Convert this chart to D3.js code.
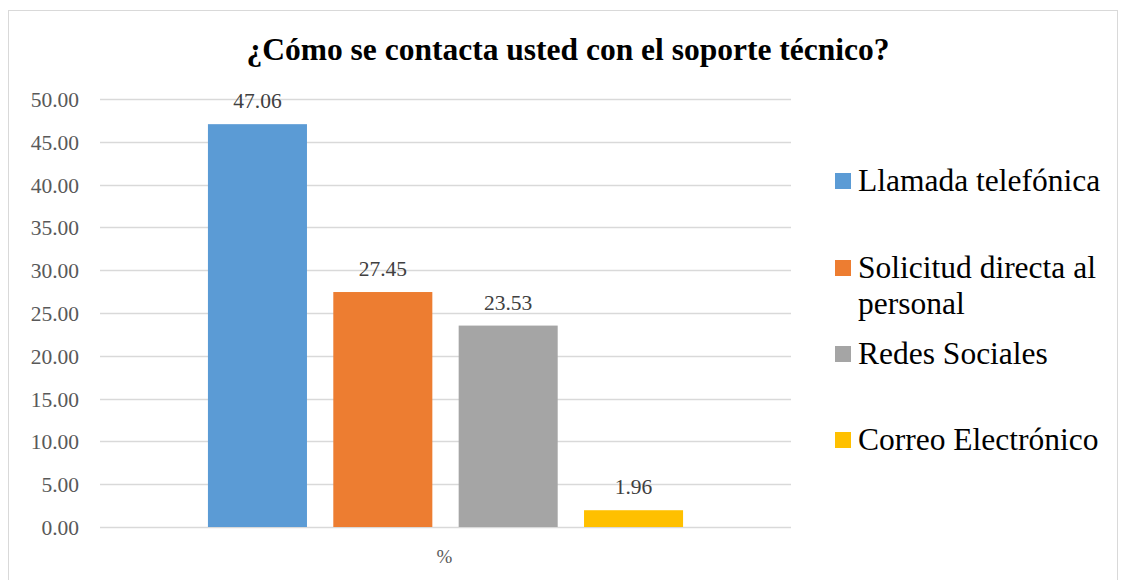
<!DOCTYPE html>
<html>
<head>
<meta charset="utf-8">
<script src="https://cdn.jsdelivr.net/npm/d3@7"></script>
<style>
  body { margin: 0; background: #fff; }
</style>
</head>
<body>
<svg id="chart" width="1123" height="580"></svg>
<script>
var title = '¿Cómo se contacta usted con el soporte técnico?';
var categories = ['%'];
var seriesNames = ['Llamada telefónica', 'Solicitud directa al personal', 'Redes Sociales', 'Correo Electrónico'];
var seriesValues = [47.06, 27.45, 23.53, 1.96];
var seriesColors = ['#5b9bd5', '#ed7d31', '#a5a5a5', '#ffc000'];
var yTicks = [0, 5, 10, 15, 20, 25, 30, 35, 40, 45, 50];

var serif = "'Liberation Serif', 'Noto Serif', 'DejaVu Serif', 'FreeSerif', Tinos, serif";
var svg = d3.select('#chart');

// chart border
svg.append('rect')
   .attr('x', 8.5).attr('y', 10.5)
   .attr('width', 1109).attr('height', 600)
   .attr('fill', 'none')
   .attr('stroke', '#d9d9d9');

svg.append('text')
   .attr('x', 568).attr('y', 60)
   .attr('text-anchor', 'middle')
   .style('font-family', serif)
   .style('font-size', '31.5px')
   .style('font-weight', 'bold')
   .attr('fill', '#000')
   .text(title);

var plot = {left: 100, right: 791, top: 99, bottom: 527};

var y = d3.scaleLinear().domain([0, 50]).range([plot.bottom, plot.top]);
var x0 = d3.scaleBand().domain(categories).range([plot.left, plot.right]).paddingOuter(0.189);
var x1 = d3.scaleBand().domain(seriesNames).range([0, x0.bandwidth()]).paddingInner(0.21).paddingOuter(0.105);

// gridlines
svg.append('g')
   .selectAll('line')
   .data(yTicks)
   .enter().append('line')
   .attr('x1', plot.left).attr('x2', plot.right)
   .attr('y1', function(d){ return Math.round(y(d)) + 0.5; })
   .attr('y2', function(d){ return Math.round(y(d)) + 0.5; })
   .attr('stroke', '#d9d9d9')
   .attr('stroke-width', 1.3);

// y axis labels
var yAxis = d3.axisLeft(y).tickValues(yTicks).tickSize(0).tickPadding(21)
              .tickFormat(d3.format('.2f'));
var yG = svg.append('g').attr('transform', 'translate(' + plot.left + ',0)').call(yAxis);
yG.attr('font-family', null).attr('font-size', null);
yG.select('.domain').remove();
yG.selectAll('text')
  .attr('dy', '0.35em')
  .style('font-size', '21.5px')
  .style('font-family', serif)
  .attr('fill', '#595959');

// bars
var bars = seriesNames.map(function(name, i){
  return {name: name, value: seriesValues[i], color: seriesColors[i], cat: categories[0]};
});

svg.append('g')
   .selectAll('rect')
   .data(bars)
   .enter().append('rect')
   .attr('x', function(d){ return x0(d.cat) + x1(d.name); })
   .attr('y', function(d){ return y(d.value); })
   .attr('width', x1.bandwidth())
   .attr('height', function(d){ return y(0) - y(d.value); })
   .attr('fill', function(d){ return d.color; });

svg.append('g')
   .selectAll('text')
   .data(bars)
   .enter().append('text')
   .attr('x', function(d){ return x0(d.cat) + x1(d.name) + x1.bandwidth() / 2; })
   .attr('y', function(d){ return y(d.value) - 16; })
   .attr('text-anchor', 'middle')
   .style('font-family', serif)
   .style('font-size', '21.5px')
   .attr('fill', '#404040')
   .text(function(d){ return d.value.toFixed(2); });

// category axis label
svg.append('text')
   .attr('x', x0(categories[0]) + x0.bandwidth() / 2 - 1)
   .attr('y', 563)
   .attr('text-anchor', 'middle')
   .style('font-family', serif)
   .style('font-size', '19px')
   .attr('fill', '#595959')
   .text(categories[0]);

// legend
var legendRows = [
  {lines: ['Llamada telefónica'], cy: 181},
  {lines: ['Solicitud directa al', 'personal'], cy: 268},
  {lines: ['Redes Sociales'], cy: 354},
  {lines: ['Correo Electrónico'], cy: 440}
];

var legend = svg.append('g');
legendRows.forEach(function(row, i){
  legend.append('rect')
        .attr('x', 835).attr('y', row.cy - 8)
        .attr('width', 16).attr('height', 16)
        .attr('fill', seriesColors[i]);
  var t = legend.append('text')
                .attr('x', 858).attr('y', row.cy + 10)
                .style('font-family', serif)
                .style('font-size', '31.5px')
                .attr('fill', '#000');
  row.lines.forEach(function(line, j){
    t.append('tspan')
     .attr('x', 858)
     .attr('dy', j === 0 ? 0 : 36)
     .text(line);
  });
});
</script>
</body>
</html>
